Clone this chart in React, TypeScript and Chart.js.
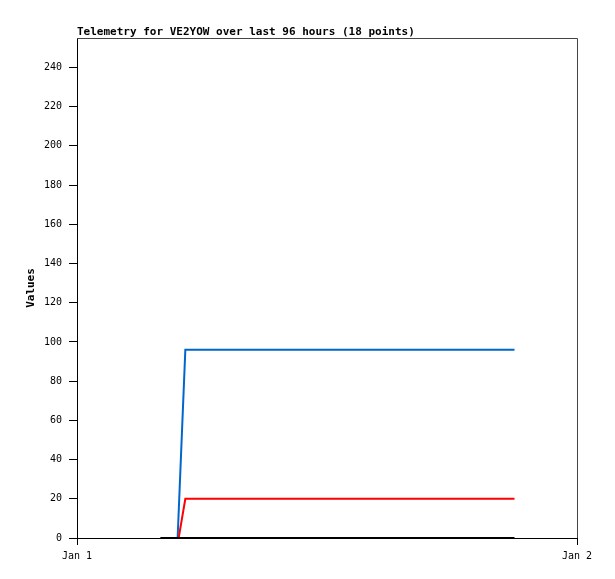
import React, { useEffect, useRef } from "react";
import { Chart, registerables } from "chart.js";

Chart.register(...registerables);

const TITLE = "Telemetry for VE2YOW over last 96 hours (18 points)";
const Y_LABEL = "Values";
const X_TICK_LABELS = ["Jan 1", "Jan 2"];
const X_MIN = 0;
const X_MAX = 24;
const Y_MIN = 0;
const Y_MAX = 255;
const Y_STEP = 20;

// hours since Jan 1 00:00
const blackHours = [4.0, 21.0];
const blackValues = [0, 0];
const redHours = [4.88, 5.2, 21.0];
const redValues = [0, 20, 20];
const blueHours = [4.83, 5.2, 21.0];
const blueValues = [0, 96, 96];

const toPoints = (xs: number[], ys: number[]) => xs.map((x, i) => ({ x, y: ys[i] }));

const MONO = "'DejaVu Sans Mono', 'Liberation Mono', monospace";

const framePlugin = {
  id: "frameAndText",
  afterDraw(chart: any) {
    const { ctx, chartArea } = chart;
    const { left, right, top, bottom } = chartArea;
    ctx.save();
    // top and right frame
    ctx.strokeStyle = "#444444";
    ctx.lineWidth = 1;
    ctx.beginPath();
    ctx.moveTo(left, Math.round(top) + 0.5);
    ctx.lineTo(Math.round(right) + 0.5, Math.round(top) + 0.5);
    ctx.lineTo(Math.round(right) + 0.5, bottom);
    ctx.stroke();
    // title
    ctx.fillStyle = "#000000";
    ctx.font = `bold 11px ${MONO}`;
    ctx.textAlign = "left";
    ctx.textBaseline = "alphabetic";
    ctx.fillText(TITLE, left, 34.5);
    // y axis label
    ctx.translate(31.5, (top + bottom) / 2);
    ctx.rotate(-Math.PI / 2);
    ctx.textAlign = "center";
    ctx.textBaseline = "middle";
    ctx.fillText(Y_LABEL, 0, 0);
    ctx.restore();
  },
};

export default function App() {
  const ref = useRef<HTMLCanvasElement | null>(null);
  useEffect(() => {
    if (!ref.current) return;
    const chart = new Chart(ref.current, {
      type: "line",
      data: {
        datasets: [
          {
            label: "black",
            data: toPoints(blackHours, blackValues),
            borderColor: "#000000",
            borderWidth: 2,
            pointRadius: 0,
            tension: 0,
          },
          {
            label: "red",
            data: toPoints(redHours, redValues),
            borderColor: "#ff0000",
            borderWidth: 2,
            pointRadius: 0,
            tension: 0,
          },
          {
            label: "blue",
            data: toPoints(blueHours, blueValues),
            borderColor: "#0066cc",
            borderWidth: 2,
            pointRadius: 0,
            tension: 0,
          },
        ],
      },
      options: {
        animation: false,
        responsive: false,
        devicePixelRatio: 1,
        layout: { padding: { top: 38, right: 38, left: 0, bottom: 0 } },
        plugins: {
          legend: { display: false },
          title: { display: false },
          tooltip: { enabled: false },
        },
        scales: {
          x: {
            type: "linear",
            min: X_MIN,
            max: X_MAX,
            afterFit: (s: any) => {
              s.height = 41;
            },
            ticks: {
              stepSize: X_MAX - X_MIN,
              autoSkip: false,
              maxRotation: 0,
              padding: 5,
              color: "#000000",
              font: { family: MONO, size: 10 },
              callback: (v: any) => X_TICK_LABELS[Math.round((Number(v) - X_MIN) / (X_MAX - X_MIN))] ?? "",
            },
            grid: {
              drawOnChartArea: false,
              drawTicks: true,
              tickLength: 7,
              color: "#000000",
            },
            border: { display: true, color: "#000000", width: 1 },
          },
          y: {
            type: "linear",
            min: Y_MIN,
            max: Y_MAX,
            afterFit: (s: any) => {
              s.width = 77;
            },
            ticks: {
              stepSize: Y_STEP,
              includeBounds: false,
              autoSkip: false,
              padding: 7,
              color: "#000000",
              font: { family: MONO, size: 10 },
            },
            grid: {
              drawOnChartArea: false,
              drawTicks: true,
              tickLength: 8,
              color: "#000000",
            },
            border: { display: true, color: "#000000", width: 1 },
          },
        },
      },
      plugins: [framePlugin],
    });
    return () => chart.destroy();
  }, []);
  return (
    <div style={{ position: "fixed", left: 0, top: 0, width: 615, height: 579, background: "#ffffff" }}>
      <canvas ref={ref} width={615} height={579} style={{ display: "block", width: 615, height: 579 }} />
    </div>
  );
}
